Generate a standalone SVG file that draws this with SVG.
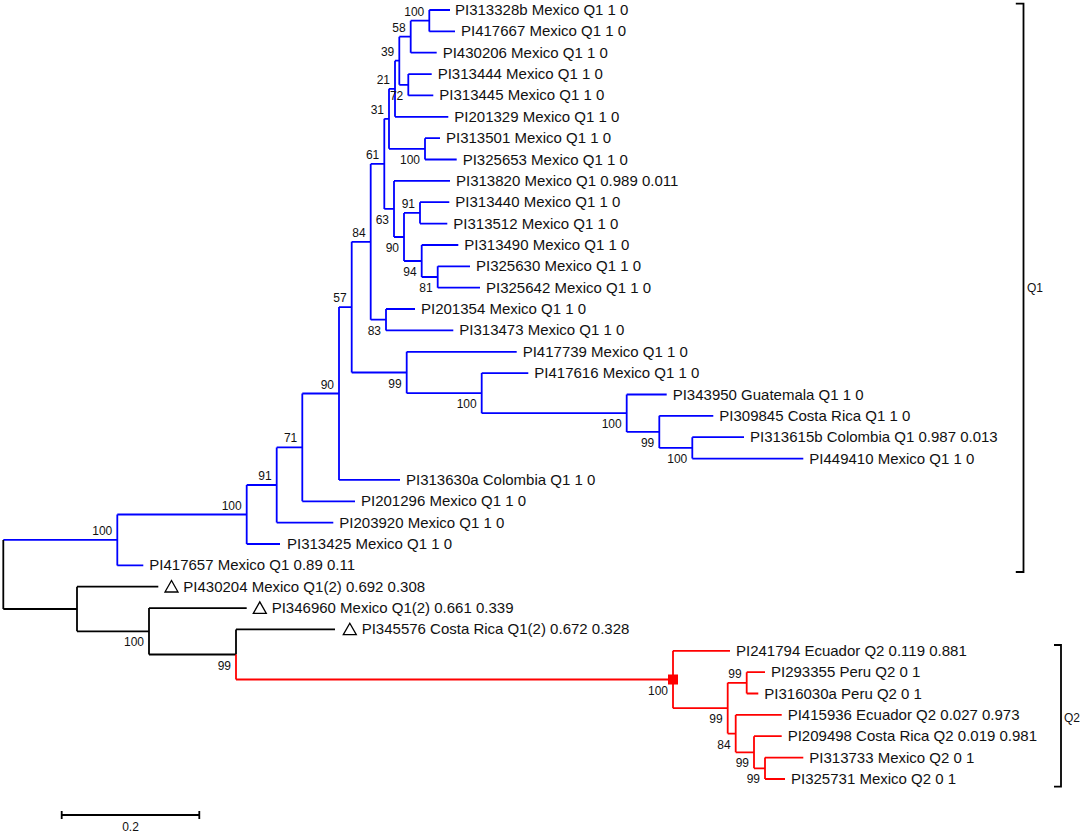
<svg xmlns="http://www.w3.org/2000/svg" width="1084" height="834" viewBox="0 0 1084 834">
<style>
.b{stroke:#0000ff;stroke-width:1.8;fill:none}
.r{stroke:#ff0000;stroke-width:1.8;fill:none}
.k{stroke:#000;stroke-width:1.8;fill:none}
.lf{font-family:"Liberation Sans",Arial,sans-serif;font-size:15px;fill:#111}
.bs{font-family:"Liberation Sans",Arial,sans-serif;font-size:12px;fill:#111;text-anchor:end}
.cl{font-family:"Liberation Sans",Arial,sans-serif;font-size:12px;fill:#111}
.tri{stroke:#000;stroke-width:1.3;fill:none}
</style>
<rect width="1084" height="834" fill="#fff"/>
<g id="connectors">
<path class="b" d="M429.3 10V31.4M429.3 10H450M429.3 31.4H455"/>
<path class="b" d="M410.7 20.7V52.7M410.7 20.7H429.3M410.7 52.7H436.7"/>
<path class="b" d="M408.3 74.1V95.4M408.3 74.1H431.7M408.3 95.4H433.3"/>
<path class="b" d="M399.3 36.7V84.8M399.3 36.7H410.7M399.3 84.8H408.3"/>
<path class="b" d="M395 60.7V116.8M395 60.7H399.3M395 116.8H448.3"/>
<path class="b" d="M425 138.2V159.5M425 138.2H440M425 159.5H456.7"/>
<path class="b" d="M389 88.8V148.8M389 88.8H395M389 148.8H425"/>
<path class="b" d="M420 202.2V223.6M420 202.2H449.3M420 223.6H447.3"/>
<path class="b" d="M437.7 266.3V287.7M437.7 266.3H470M437.7 287.7H480"/>
<path class="b" d="M421.7 245V277M421.7 245H458.3M421.7 277H437.7"/>
<path class="b" d="M404 212.9V261M404 212.9H420M404 261H421.7"/>
<path class="b" d="M394 180.9V237M394 180.9H450M394 237H404"/>
<path class="b" d="M384.3 118.8V208.9M384.3 118.8H389M384.3 208.9H394"/>
<path class="b" d="M386 309V330.4M386 309H415M386 330.4H453.3"/>
<path class="b" d="M370.7 163.9V319.7M370.7 163.9H384.3M370.7 319.7H386"/>
<path class="b" d="M692.3 437.2V458.6M692.3 437.2H744M692.3 458.6H803.3"/>
<path class="b" d="M659.3 415.8V447.9M659.3 415.8H713.3M659.3 447.9H692.3"/>
<path class="b" d="M626.7 394.5V431.9M626.7 394.5H666.7M626.7 431.9H659.3"/>
<path class="b" d="M481.7 373.1V413.2M481.7 373.1H528.3M481.7 413.2H626.7"/>
<path class="b" d="M406.7 351.8V393.2M406.7 351.8H516.7M406.7 393.2H481.7"/>
<path class="b" d="M351.7 241.8V372.5M351.7 241.8H370.7M351.7 372.5H406.7"/>
<path class="b" d="M339 307.1V479.9M339 307.1H351.7M339 479.9H400"/>
<path class="b" d="M302.3 393.5V501.3M302.3 393.5H339M302.3 501.3H355"/>
<path class="b" d="M276.7 447.4V522.6M276.7 447.4H302.3M276.7 522.6H333.3"/>
<path class="b" d="M246.7 485V544M246.7 485H276.7M246.7 544H280"/>
<path class="b" d="M117.3 514.5V565.4M117.3 514.5H246.7M117.3 565.4H143.3"/>
<path class="b" d="M3.3 539.9H117.3"/>
<path class="k" d="M3.3 539.9V609M3.3 609H77"/>
<path class="k" d="M77 586.7V631.3M77 586.7H158.3M77 631.3H149"/>
<path class="k" d="M149 608.1V654.5M149 608.1H246.7M149 654.5H236"/>
<path class="k" d="M236 629.4V654.5M236 629.4H335"/>
<path class="r" d="M236 654.5V679.5M236 679.5H673"/>
<path class="r" d="M673 650.8V708.2M673 650.8H730M673 708.2H727.7"/>
<path class="r" d="M727.7 682.8V733.6M727.7 682.8H746.7M727.7 733.6H735.7"/>
<path class="r" d="M746.7 672.2V693.5M746.7 672.2H765M746.7 693.5H758.3"/>
<path class="r" d="M735.7 714.9V752.3M735.7 714.9H781.7M735.7 752.3H754"/>
<path class="r" d="M754 736.2V768.3M754 736.2H781.7M754 768.3H765"/>
<path class="r" d="M765 757.6V779M765 757.6H803.3M765 779H785"/>
</g>
<g id="internal-nodes">
<g id="n-a"><text class="bs" x="424.3" y="15.7">100</text></g>
<g id="n-58"><text class="bs" x="405.7" y="31.7">58</text></g>
<g id="n-72"><text class="bs" x="403.3" y="99.8">72</text></g>
<g id="n-39"><text class="bs" x="394.3" y="55.7">39</text></g>
<g id="n-21"><text class="bs" x="390" y="83.8">21</text></g>
<g id="n-100b"><text class="bs" x="420" y="163.8">100</text></g>
<g id="n-31"><text class="bs" x="384" y="113.8">31</text></g>
<g id="n-91a"><text class="bs" x="415" y="207.9">91</text></g>
<g id="n-81"><text class="bs" x="432.7" y="292">81</text></g>
<g id="n-94"><text class="bs" x="416.7" y="276">94</text></g>
<g id="n-90a"><text class="bs" x="399" y="252">90</text></g>
<g id="n-63"><text class="bs" x="389" y="223.9">63</text></g>
<g id="n-61"><text class="bs" x="379.3" y="158.9">61</text></g>
<g id="n-83"><text class="bs" x="381" y="334.7">83</text></g>
<g id="n-84"><text class="bs" x="365.7" y="236.8">84</text></g>
<g id="n-100e"><text class="bs" x="687.3" y="462.9">100</text></g>
<g id="n-99d"><text class="bs" x="654.3" y="446.9">99</text></g>
<g id="n-100d"><text class="bs" x="621.7" y="428.2">100</text></g>
<g id="n-100c"><text class="bs" x="476.7" y="408.2">100</text></g>
<g id="n-99c"><text class="bs" x="401.7" y="387.5">99</text></g>
<g id="n-57"><text class="bs" x="346.7" y="302.1">57</text></g>
<g id="n-90b"><text class="bs" x="334" y="388.5">90</text></g>
<g id="n-71"><text class="bs" x="297.3" y="442.4">71</text></g>
<g id="n-91b"><text class="bs" x="271.7" y="480">91</text></g>
<g id="n-100f"><text class="bs" x="241.7" y="509.5">100</text></g>
<g id="n-100g"><text class="bs" x="112.3" y="534.9">100</text></g>
<g id="n-149"><text class="bs" x="144" y="646.3">100</text></g>
<g id="n-236"><text class="bs" x="231" y="669.5">99</text></g>
<g id="n-red"><rect x="668" y="674.5" width="10" height="10" fill="#ff0000"/><text class="bs" x="668" y="694.5">100</text></g>
<g id="n-99p"><text class="bs" x="741.7" y="677.8">99</text></g>
<g id="n-99a"><text class="bs" x="722.7" y="723.2">99</text></g>
<g id="n-84q"><text class="bs" x="730.7" y="748.6">84</text></g>
<g id="n-99b"><text class="bs" x="749" y="767.3">99</text></g>
<g id="n-99cc"><text class="bs" x="760" y="783.3">99</text></g>
</g>
<g id="leaves">
<g id="leaf1"><text class="lf" x="455" y="15">PI313328b Mexico Q1 1 0</text></g>
<g id="leaf2"><text class="lf" x="461" y="36.4">PI417667 Mexico Q1 1 0</text></g>
<g id="leaf3"><text class="lf" x="442.7" y="57.7">PI430206 Mexico Q1 1 0</text></g>
<g id="leaf4"><text class="lf" x="437.7" y="79.1">PI313444 Mexico Q1 1 0</text></g>
<g id="leaf5"><text class="lf" x="439.3" y="100.4">PI313445 Mexico Q1 1 0</text></g>
<g id="leaf6"><text class="lf" x="454.3" y="121.8">PI201329 Mexico Q1 1 0</text></g>
<g id="leaf7"><text class="lf" x="446" y="143.2">PI313501 Mexico Q1 1 0</text></g>
<g id="leaf8"><text class="lf" x="462.7" y="164.5">PI325653 Mexico Q1 1 0</text></g>
<g id="leaf9"><text class="lf" x="456" y="185.9">PI313820 Mexico Q1 0.989 0.011</text></g>
<g id="leaf10"><text class="lf" x="455.3" y="207.2">PI313440 Mexico Q1 1 0</text></g>
<g id="leaf11"><text class="lf" x="453.3" y="228.6">PI313512 Mexico Q1 1 0</text></g>
<g id="leaf12"><text class="lf" x="464.3" y="250">PI313490 Mexico Q1 1 0</text></g>
<g id="leaf13"><text class="lf" x="476" y="271.3">PI325630 Mexico Q1 1 0</text></g>
<g id="leaf14"><text class="lf" x="486" y="292.7">PI325642 Mexico Q1 1 0</text></g>
<g id="leaf15"><text class="lf" x="421" y="314">PI201354 Mexico Q1 1 0</text></g>
<g id="leaf16"><text class="lf" x="459.3" y="335.4">PI313473 Mexico Q1 1 0</text></g>
<g id="leaf17"><text class="lf" x="522.7" y="356.8">PI417739 Mexico Q1 1 0</text></g>
<g id="leaf18"><text class="lf" x="534.3" y="378.1">PI417616 Mexico Q1 1 0</text></g>
<g id="leaf19"><text class="lf" x="672.7" y="399.5">PI343950 Guatemala Q1 1 0</text></g>
<g id="leaf20"><text class="lf" x="719.3" y="420.8">PI309845 Costa Rica Q1 1 0</text></g>
<g id="leaf21"><text class="lf" x="750" y="442.2">PI313615b Colombia Q1 0.987 0.013</text></g>
<g id="leaf22"><text class="lf" x="809.3" y="463.6">PI449410 Mexico Q1 1 0</text></g>
<g id="leaf23"><text class="lf" x="406" y="484.9">PI313630a Colombia Q1 1 0</text></g>
<g id="leaf24"><text class="lf" x="361" y="506.3">PI201296 Mexico Q1 1 0</text></g>
<g id="leaf25"><text class="lf" x="339.3" y="527.6">PI203920 Mexico Q1 1 0</text></g>
<g id="leaf26"><text class="lf" x="287" y="549">PI313425 Mexico Q1 1 0</text></g>
<g id="leaf27"><text class="lf" x="149.3" y="570.4">PI417657 Mexico Q1 0.89 0.11</text></g>
<g id="leaf28"><polygon class="tri" points="165,592 178,592 171.5,580.5"/><text class="lf" x="183.3" y="591.7">PI430204 Mexico Q1(2) 0.692 0.308</text></g>
<g id="leaf29"><polygon class="tri" points="253.3,613.4 266.3,613.4 259.8,601.9"/><text class="lf" x="271.7" y="613.1">PI346960 Mexico Q1(2) 0.661 0.339</text></g>
<g id="leaf30"><polygon class="tri" points="343.3,634.7 356.3,634.7 349.8,623.2"/><text class="lf" x="361.7" y="634.4">PI345576 Costa Rica Q1(2) 0.672 0.328</text></g>
<g id="leaf31"><text class="lf" x="736" y="655.8">PI241794 Ecuador Q2 0.119 0.881</text></g>
<g id="leaf32"><text class="lf" x="771" y="677.2">PI293355 Peru Q2 0 1</text></g>
<g id="leaf33"><text class="lf" x="764.3" y="698.5">PI316030a Peru Q2 0 1</text></g>
<g id="leaf34"><text class="lf" x="787.7" y="719.9">PI415936 Ecuador Q2 0.027 0.973</text></g>
<g id="leaf35"><text class="lf" x="787.7" y="741.2">PI209498 Costa Rica Q2 0.019 0.981</text></g>
<g id="leaf36"><text class="lf" x="809.3" y="762.6">PI313733 Mexico Q2 0 1</text></g>
<g id="leaf37"><text class="lf" x="791" y="784">PI325731 Mexico Q2 0 1</text></g>
</g>
<g id="clade-q1">
<path class="k" d="M1015.8 3.7H1023.5V572H1015.8" stroke-width="1.6"/>
<text class="cl" x="1027" y="292">Q1</text>
</g>
<g id="clade-q2">
<path class="k" d="M1054 645H1061V786.7H1054" stroke-width="1.6"/>
<text class="cl" x="1064" y="722">Q2</text>
</g>
<g id="scale-bar">
<path class="k" d="M61.7 815H199.3M61.7 811V819M199.3 811V819" stroke-width="1.5"/>
<text class="cl" x="130.5" y="831" text-anchor="middle">0.2</text>
</g>
</svg>
